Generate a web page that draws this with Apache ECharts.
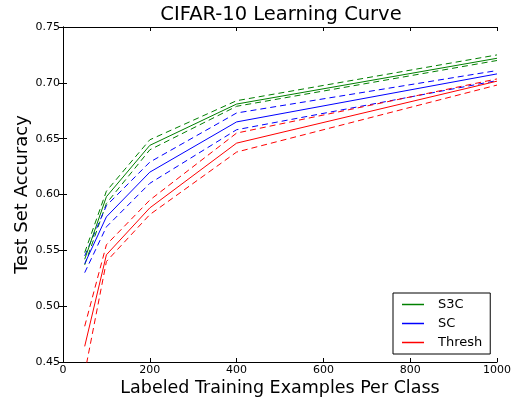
<!DOCTYPE html>
<html>
<head>
<meta charset="utf-8">
<script src="https://cdn.jsdelivr.net/npm/echarts@6/dist/echarts.min.js"></script>
<style>
  html, body { margin: 0; padding: 0; background: #fff; }
  #chart { width: 512px; height: 400px; }
</style>
</head>
<body>
<div id="chart"></div>
<script>
// Training-set sizes (labeled examples per class)
const examples = [50, 100, 200, 400, 1000];

// S3C accuracy: mean and upper / lower bounds
const s3cMean  = [0.542, 0.598, 0.644, 0.681, 0.722];
const s3cUpper = [0.548, 0.603, 0.649, 0.684, 0.725];
const s3cLower = [0.537, 0.592, 0.640, 0.679, 0.720];

// SC accuracy
const scMean  = [0.538, 0.580, 0.620, 0.665, 0.708];
const scUpper = [0.545, 0.590, 0.629, 0.673, 0.711];
const scLower = [0.530, 0.571, 0.610, 0.658, 0.702];

// Thresh accuracy
const thMean  = [0.464, 0.546, 0.588, 0.646, 0.7015];
const thUpper = [0.482, 0.555, 0.595, 0.655, 0.7035];
const thLower = [0.440, 0.540, 0.582, 0.638, 0.698];

const xTicks = [0, 200, 400, 600, 800, 1000];
const yTicks = [0.45, 0.50, 0.55, 0.60, 0.65, 0.70, 0.75];

const GREEN = '#008000', BLUE = '#0000ff', RED = '#ff0000';
const FONT = 'DejaVu Sans';
const pairs = ys => examples.map((x, i) => [x, ys[i]]);

function solid(name, data, color) {
  return {
    name, type: 'line', data: pairs(data), symbol: 'none', clip: true,
    color, lineStyle: { color, width: 1 }, itemStyle: { color }, z: 3
  };
}
function dashed(name, data, color) {
  return {
    name, type: 'line', data: pairs(data), symbol: 'none', clip: true,
    color, lineStyle: { color, width: 1, type: [6, 4] }, itemStyle: { color }, z: 2
  };
}

const tickCommon = { inside: true, length: 4, lineStyle: { color: '#000', width: 1 } };
const lineCommon = { show: true, lineStyle: { color: '#000', width: 1 } };
const legendIcon = 'path://M0,6.5 L22,6.5 L22,8 L0,8 Z';

const chart = echarts.init(document.getElementById('chart'), null, { renderer: 'canvas' });
chart.setOption({
  animation: false,
  backgroundColor: '#fff',
  graphic: [{
    type: 'text', x: 281, y: 5,
    style: {
      text: 'CIFAR-10 Learning Curve',
      fontFamily: FONT, fontSize: 19.5, fill: '#000', textAlign: 'center'
    }
  }],
  grid: { left: 63, right: 15, top: 27, bottom: 38, containLabel: false, outerBoundsMode: 'none' },
  legend: {
    data: [
      { name: 'S3C', icon: legendIcon, itemStyle: { color: GREEN } },
      { name: 'SC', icon: legendIcon, itemStyle: { color: BLUE } },
      { name: 'Thresh', icon: legendIcon, itemStyle: { color: RED } }
    ],
    orient: 'vertical',
    left: 393, top: 293,
    width: 97,
    padding: [5, 8, 5, 9],
    itemGap: 6,
    itemWidth: 22, itemHeight: 14,
    borderColor: '#000', borderWidth: 1, borderRadius: 0,
    backgroundColor: '#fff',
    textStyle: { fontFamily: FONT, fontSize: 13, color: '#000', padding: [0, 0, 0, 9] }
  },
  xAxis: [{
    type: 'value', min: 0, max: 1000, interval: 200,
    name: 'Labeled Training Examples Per Class',
    nameLocation: 'middle', nameGap: 17,
    nameMoveOverlap: false,
    nameTextStyle: { fontFamily: FONT, fontSize: 17.5, color: '#000' },
    axisLine: lineCommon, axisTick: tickCommon, splitLine: { show: false },
    axisLabel: { fontFamily: FONT, fontSize: 11, color: '#000', margin: 3,
      formatter: v => xTicks.includes(v) ? String(v) : '' }
  }, {
    type: 'value', min: 0, max: 1000, interval: 200, position: 'top',
    axisLine: lineCommon, axisTick: tickCommon, axisLabel: { show: false },
    splitLine: { show: false }
  }],
  yAxis: [{
    type: 'value', min: 0.45, max: 0.75, interval: 0.05,
    name: 'Test Set Accuracy',
    nameLocation: 'middle', nameGap: 32, nameRotate: 90,
    nameMoveOverlap: false,
    nameTextStyle: { fontFamily: FONT, fontSize: 18, color: '#000' },
    axisLine: lineCommon, axisTick: tickCommon, splitLine: { show: false },
    axisLabel: { fontFamily: FONT, fontSize: 11, color: '#000', margin: 3,
      formatter: v => {
        const t = yTicks.find(y => Math.abs(y - v) < 1e-6);
        return t === undefined ? '' : t.toFixed(2);
      } }
  }, {
    type: 'value', min: 0.45, max: 0.75, interval: 0.05, position: 'right',
    axisLine: lineCommon, axisTick: tickCommon, axisLabel: { show: false },
    splitLine: { show: false }
  }],
  series: [
    dashed('S3C upper', s3cUpper, GREEN),
    dashed('S3C lower', s3cLower, GREEN),
    solid('S3C', s3cMean, GREEN),
    dashed('SC upper', scUpper, BLUE),
    dashed('SC lower', scLower, BLUE),
    solid('SC', scMean, BLUE),
    dashed('Thresh upper', thUpper, RED),
    dashed('Thresh lower', thLower, RED),
    solid('Thresh', thMean, RED)
  ]
});
</script>
</body>
</html>
